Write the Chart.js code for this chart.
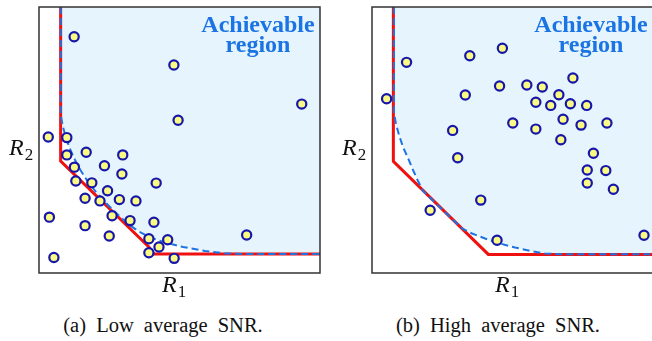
<!DOCTYPE html>
<html>
<head>
<meta charset="utf-8">
<script src="https://cdn.jsdelivr.net/npm/chart.js@4.4.1/dist/chart.umd.min.js"></script>
<style>
  html, body { margin: 0; padding: 0; background: #fff; overflow: hidden; width: 652px; height: 341px; }
  canvas { position: absolute; top: 0; }
  .lbl { position: absolute; font-family: "Liberation Serif", Tinos, "Times New Roman", Times, serif; color: #111; line-height: 1; white-space: nowrap; }
  .rate { font-size: 24px; }
  .rate i { font-style: italic; }
  .rate sub { font-size: 17px; vertical-align: baseline; position: relative; top: 5px; margin-left: 1px; }
  .region { position: absolute; width: 140px; text-align: center; font-family: "Liberation Serif", Tinos, "Times New Roman", Times, serif; font-weight: bold; font-size: 24px; line-height: 20px; color: #1b74e4; }
  .cap { font-size: 20.5px; width: 300px; text-align: center; word-spacing: 5px; }
</style>
</head>
<body>
<canvas id="lowChart" width="300" height="283" style="left:29px"></canvas>
<canvas id="highChart" width="300" height="283" style="left:362px"></canvas>

<div class="region" style="left:188px; top:13.6px">Achievable<br>region</div>
<div class="region" style="left:521px; top:13.6px">Achievable<br>region</div>

<div class="lbl rate" style="left:162px; top:272px"><i>R</i><sub>1</sub></div>
<div class="lbl rate" style="left:9px; top:135px"><i>R</i><sub>2</sub></div>
<div class="lbl rate" style="left:495px; top:272px"><i>R</i><sub>1</sub></div>
<div class="lbl rate" style="left:342px; top:135px"><i>R</i><sub>2</sub></div>

<div class="lbl cap" style="left:13px; top:315px">(a) Low average SNR.</div>
<div class="lbl cap" style="left:348px; top:315px">(b) High average SNR.</div>

<script>
// user rate pairs (R1, R2), low average SNR
const lowX = [12.5, 48.0, 93.5, 49.5, 3.3, 9.9, 16.8, 29.8, 9.9, 12.6, 23.3, 29.5, 13.1, 18.8, 41.7, 24.4, 16.4,
              21.7, 28.6, 34.5, 3.7, 26.0, 32.4, 40.9, 16.4, 25.0, 73.9, 39.1, 45.8, 42.7, 39.1, 5.3, 48.1];
const lowY = [88.8, 78.2, 63.5, 57.4, 51.1, 50.9, 45.4, 44.4, 44.4, 39.8, 40.3, 37.2, 34.6, 33.9, 33.8, 30.9, 28.1,
              27.1, 27.6, 27.1, 21.0, 21.5, 19.7, 19.1, 17.8, 13.9, 14.3, 12.9, 12.5, 9.8, 7.6, 5.8, 5.5];

// user rate pairs (R1, R2), high average SNR
const highX = [12.3, 34.8, 46.4, 5.2, 33.2, 45.4, 55.1, 60.6, 71.5, 66.5, 58.3, 63.6, 70.6, 76.4, 68.0, 50.1,
               74.4, 83.6, 28.7, 58.3, 67.2, 78.8, 30.5, 76.6, 83.2, 76.6, 85.9, 38.7, 20.7, 44.5, 96.8];
const highY = [79.2, 81.7, 84.5, 65.5, 66.9, 70.3, 70.7, 69.9, 73.3, 67.0, 64.2, 63.0, 63.6, 63.0, 57.8, 56.4,
               55.6, 56.4, 53.6, 54.1, 50.1, 45.0, 43.3, 38.7, 38.5, 33.8, 31.5, 27.4, 23.6, 12.3, 14.2];

// piecewise-linear threshold (red)
const lowCornerX = [7.7, 7.7, 39.1, 40.9, 100];
const lowCornerY = [100, 42.1, 9.8, 7.1, 7.1];
const highCornerX = [7.6, 7.6, 41.4, 100];
const highCornerY = [100, 42.0, 7.0, 7.0];

// achievable region boundary (dashed blue)
const lowCurveX = [7.72, 7.72, 8.54, 9.61, 11.03, 12.81, 14.95, 17.44, 20.28, 23.13, 27.40, 31.67, 35.23,
                   39.50, 44.84, 51.25, 59.07, 66.19, 73.31, 100];
const lowCurveY = [100, 59.40, 54.89, 50.75, 46.62, 42.48, 38.35, 34.21, 30.45, 27.07, 22.56, 18.42, 15.79,
                   13.35, 11.47, 9.77, 8.27, 7.37, 7.14, 7.14];
const highCurveX = [7.83, 7.83, 8.54, 9.61, 11.03, 12.81, 14.59, 16.37, 18.15, 32.03, 35.59, 40.21, 45.55,
                    50.89, 56.23, 61.57, 66.90, 100];
const highCurveY = [100, 60.15, 56.02, 51.88, 47.37, 43.23, 38.72, 34.59, 30.83, 16.73, 14.85, 12.97, 11.09,
                    9.59, 8.35, 7.33, 7.03, 7.03];

const pts = (xs, ys) => xs.map((x, i) => ({ x, y: ys[i] }));

// box around the plot area
const framePlugin = {
  id: 'frame',
  afterDraw(chart) {
    const { ctx, chartArea: a } = chart;
    ctx.save();
    ctx.strokeStyle = '#333';
    ctx.lineWidth = 1.5;
    ctx.strokeRect(a.left, a.top, a.right - a.left, a.bottom - a.top);
    ctx.restore();
  }
};

function makePanel(id, xs, ys, cornerX, cornerY, curveX, curveY) {
  return new Chart(document.getElementById(id), {
    type: 'scatter',
    data: {
      datasets: [
        {
          data: pts(xs, ys),
          pointRadius: 4.6,
          pointBackgroundColor: '#fbfb84',
          pointBorderColor: '#1616aa',
          pointBorderWidth: 2.2,
          clip: false,
          order: 0
        },
        {
          type: 'line',
          data: pts(curveX, curveY),
          borderColor: '#1f73e0',
          borderWidth: 2,
          borderDash: [7, 4],
          backgroundColor: '#e5f4fd',
          fill: 'end',
          pointRadius: 0,
          tension: 0,
          order: 1
        },
        {
          type: 'line',
          data: pts(cornerX, cornerY),
          borderColor: '#f01010',
          borderWidth: 3,
          fill: false,
          pointRadius: 0,
          tension: 0,
          order: 2
        }
      ]
    },
    options: {
      responsive: false,
      animation: false,
      devicePixelRatio: 1,
      layout: { padding: { left: 10, top: 7, right: 9, bottom: 10 } },
      scales: {
        x: { type: 'linear', min: 0, max: 100, display: false },
        y: { type: 'linear', min: 0, max: 100, display: false }
      },
      plugins: {
        legend: { display: false },
        tooltip: { enabled: false },
        filler: { drawTime: 'beforeDatasetsDraw' }
      }
    },
    plugins: [framePlugin]
  });
}

makePanel('lowChart', lowX, lowY, lowCornerX, lowCornerY, lowCurveX, lowCurveY);
makePanel('highChart', highX, highY, highCornerX, highCornerY, highCurveX, highCurveY);
</script>
</body>
</html>
